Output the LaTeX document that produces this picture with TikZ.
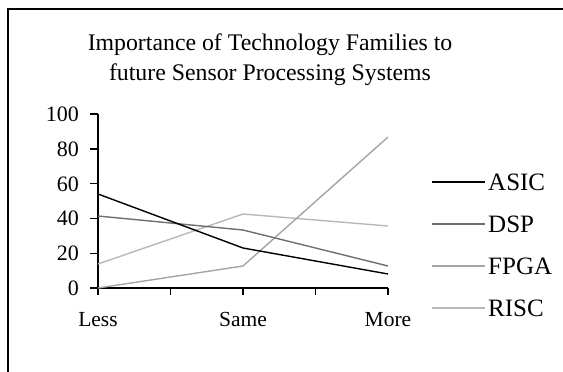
\documentclass[tikz,border=0pt]{standalone}
\usepackage{fontspec}
\setmainfont{Liberation Serif}
\definecolor{asicc}{HTML}{000000}
\definecolor{dspc}{HTML}{6E6E6E}
\definecolor{fpgac}{HTML}{A4A4A4}
\definecolor{riscc}{HTML}{B8B8B8}
\begin{document}
\begin{tikzpicture}[x=1pt,y=-1pt,
  axisline/.style={line width=1.4pt,black},
  series/.style={line width=1.4pt},
  ylab/.style={anchor=base east,inner sep=0pt,font=\fontsize{22}{22}\selectfont},
  xlab/.style={anchor=base,inner sep=0pt,font=\fontsize{21.5}{21.5}\selectfont},
  leglab/.style={anchor=base west,inner sep=0pt,font=\fontsize{25}{25}\selectfont},
  titlab/.style={anchor=base,inner sep=0pt,font=\fontsize{23.8}{23.8}\selectfont}]
\useasboundingbox (0,0) rectangle (563,372);
\draw[line width=1.3pt] (8,9) rectangle (620,420);
% title
\node[titlab] (t1) at (270,50) {Importance of Technology Families to};
\node[titlab] (t2) at (270,80) {future Sensor Processing Systems};
% axes
\coordinate (o) at (98,288);
\coordinate (ytop) at (98,114);
\coordinate (xend) at (388,288);
\draw[axisline] (ytop) -- (o) -- (xend);
\foreach \v/\yy in {0/288,20/253.2,40/218.4,60/183.6,80/148.8,100/114}{
  \draw[axisline] (90,\yy) -- (98,\yy);
  \node[ylab] (yl\v) at (79,\yy+7.5) {\v};
}
\foreach \xx in {98,170.5,243,315.5,388}{
  \draw[axisline] (\xx,288) -- (\xx,295);
}
\node[xlab] (xl1) at (98,326) {Less};
\node[xlab] (xl2) at (243,326) {Same};
\node[xlab] (xl3) at (388,326) {More};
% data
\coordinate (a1) at (98,194); \coordinate (a2) at (243,248); \coordinate (a3) at (388,274);
\coordinate (d1) at (98,216); \coordinate (d2) at (243,230); \coordinate (d3) at (388,266);
\coordinate (f1) at (98,288); \coordinate (f2) at (243,266); \coordinate (f3) at (388,137);
\coordinate (r1) at (98,264); \coordinate (r2) at (243,214); \coordinate (r3) at (388,226);
\draw[series,riscc] (r1) -- (r2) -- (r3);
\draw[series,fpgac] (f1) -- (f2) -- (f3);
\draw[series,dspc] (d1) -- (d2) -- (d3);
\draw[series,asicc] (a1) -- (a2) -- (a3);
% legend
\foreach \n/\c/\yy in {ASIC/asicc/182,DSP/dspc/224,FPGA/fpgac/266,RISC/riscc/308}{
  \coordinate (l\n a) at (432,\yy);
  \coordinate (l\n b) at (485,\yy);
  \draw[series,\c] (l\n a) -- (l\n b);
  \node[leglab] (lt\n) at (488,\yy+8.5) {\n};
}
\end{tikzpicture}
\end{document}
